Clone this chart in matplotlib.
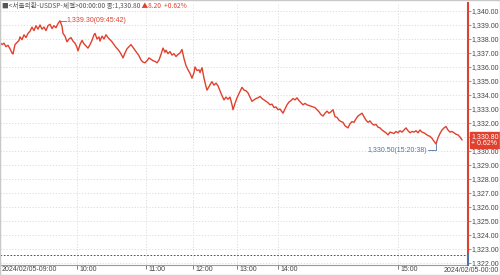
import matplotlib
matplotlib.use("Agg")
import matplotlib.pyplot as plt
import matplotlib.transforms as mtransforms

# ─────────────────────────────────────────────
# Data
# ─────────────────────────────────────────────
pos = [0, 2, 4, 6, 8, 10, 12, 13, 15, 17, 19, 20, 22, 24, 26, 28, 30, 32, 34, 36,
       38, 40, 42, 44, 46, 48, 50, 52, 54, 56, 58, 60, 62, 63, 65, 67, 69, 71, 73, 75,
       77, 78, 80, 82, 84, 86, 88, 90, 92, 94, 95, 97, 99, 100, 102, 104, 106, 108, 110, 112,
       114, 116, 118, 120, 122, 123, 125, 127, 129, 131, 133, 135, 137, 139, 141, 143, 145, 147, 149, 151,
       153, 155, 157, 159, 161, 163, 165, 166, 168, 170, 172, 174, 176, 178, 180, 182, 184, 186, 188, 190,
       192, 194, 195, 197, 199, 200, 202, 204, 206, 207, 209, 211, 212, 214, 216, 218, 220, 222, 224, 226,
       228, 230, 232, 233, 235, 237, 239, 241, 242, 244, 246, 248, 250, 252, 254, 256, 258, 260, 262, 264,
       266, 268, 270, 272, 274, 276, 278, 280, 282, 283, 285, 287, 289, 291, 293, 295, 297, 299, 301, 303,
       305, 307, 309, 311, 313, 315, 317, 319, 321, 323, 325, 327, 329, 331, 333, 335, 337, 339, 341, 343,
       345, 347, 348, 350, 352, 354, 356, 358, 360, 362, 364, 366, 368, 370, 372, 374, 376, 378, 380, 382,
       384, 386, 388, 390, 392, 394, 396, 398, 400, 402, 404, 406, 408, 410, 412, 414, 416, 418, 420, 422,
       424, 426, 428, 430, 432, 434, 436, 438, 440, 442, 444, 446, 448, 450, 452, 454, 456, 458, 460, 462]
price = [1337.75, 1337.6, 1337.7, 1337.45, 1337.55, 1337.3, 1337.0, 1336.93, 1337.6, 1337.75,
         1337.9, 1338.15, 1337.95, 1338.3, 1338.1, 1338.4, 1338.55, 1338.85, 1338.6, 1338.95,
         1338.7, 1339.0, 1338.7, 1338.85, 1338.6, 1338.95, 1339.05, 1338.75, 1338.95, 1338.8,
         1339.1, 1339.3, 1338.9, 1338.4, 1338.2, 1337.8, 1338.0, 1338.1, 1337.85, 1337.7,
         1337.4, 1337.15, 1337.6, 1337.9, 1337.65, 1337.5, 1337.35, 1337.6, 1337.9, 1338.3,
         1338.4, 1338.0, 1338.15, 1337.85, 1338.2, 1338.0, 1338.3, 1338.1, 1337.95, 1337.8,
         1337.6, 1337.4, 1337.25, 1337.05, 1336.8, 1336.65, 1337.0, 1337.3, 1337.45, 1337.6,
         1337.4, 1337.2, 1337.0, 1336.8, 1336.5, 1336.35, 1336.3, 1336.45, 1336.65, 1336.55,
         1336.45, 1336.4, 1336.3, 1336.5, 1336.9, 1337.35, 1337.05, 1337.2, 1336.95, 1337.1,
         1336.85, 1336.95, 1336.75, 1336.9, 1337.0, 1337.25, 1336.6, 1336.1, 1335.8, 1335.55,
         1335.2, 1335.6, 1336.0, 1335.75, 1335.8, 1335.6, 1335.95, 1335.2, 1334.6, 1334.35,
         1334.6, 1334.85, 1334.95, 1334.7, 1334.85, 1334.65, 1334.3, 1333.95, 1333.65, 1333.85,
         1333.7, 1333.85, 1333.3, 1332.95, 1333.4, 1333.8, 1334.1, 1334.4, 1334.55, 1334.35,
         1334.3, 1334.15, 1333.85, 1333.55, 1333.65, 1333.75, 1333.8, 1333.9, 1333.75, 1333.65,
         1333.55, 1333.45, 1333.3, 1333.35, 1333.1, 1333.15, 1332.95, 1333.0, 1332.8, 1332.7,
         1333.0, 1333.3, 1333.5, 1333.6, 1333.75, 1333.65, 1333.8, 1333.6, 1333.45, 1333.3,
         1333.4, 1333.3, 1333.25, 1333.2, 1333.15, 1333.1, 1332.95, 1332.8, 1332.6, 1332.5,
         1332.7, 1332.85, 1332.7, 1332.8, 1332.95, 1332.45, 1332.4, 1332.2, 1332.1, 1332.05,
         1331.8, 1331.7, 1331.65, 1331.95, 1332.1, 1332.05, 1332.3, 1332.5, 1332.6, 1332.7,
         1332.45, 1332.2, 1332.05, 1332.15, 1331.95, 1331.85, 1331.9, 1331.7, 1331.65, 1331.5,
         1331.4, 1331.3, 1331.15, 1331.35, 1331.3, 1331.25, 1331.4, 1331.3, 1331.45, 1331.35,
         1331.5, 1331.65, 1331.45, 1331.3, 1331.4, 1331.35, 1331.45, 1331.3, 1331.5, 1331.35,
         1331.3, 1331.2, 1331.1, 1331.05, 1330.9, 1330.7, 1330.5, 1330.95, 1331.25, 1331.5,
         1331.65, 1331.75, 1331.5, 1331.35, 1331.4, 1331.3, 1331.2, 1331.15, 1331.0, 1330.8]

time_ticks = [0, 77, 146, 193, 237, 278, 398]
time_labels = ["2024/02/05-09:00", "10:00", "11:00", "12:00", "13:00", "14:00", "15:00"]
end_label = "2024/02/05-00:00"

y_ticks = list(range(1322, 1341))
prev_close = 1322.60
last_price = 1330.80
change = 8.20
change_pct = 0.62
high_price, high_pos, high_time = 1339.30, 60, "09:45:42"
low_price, low_pos, low_time = 1330.50, 436, "15:20:38"

# ─────────────────────────────────────────────
# Styles
# ─────────────────────────────────────────────
RED = "#e0412f"
BLUE = "#4f73a6"
GRID = "#d9d9d9"
TXT = "#444444"
FONT = ["Noto Sans CJK KR", "DejaVu Sans"]
NUM_FONT = ["Liberation Sans", "DejaVu Sans"]
FS = 5.0

X_MAX = 468
Y_MIN, Y_MAX = 1321.86, 1340.57

fig = plt.figure(figsize=(5, 2.75), dpi=100)
fig.patch.set_facecolor("white")
ax = fig.add_axes([0, 10 / 275, X_MAX / 500, 262 / 275])
ax.set_xlim(0, X_MAX)
ax.set_ylim(Y_MIN, Y_MAX)

# grid
for yv in y_ticks:
    ax.axhline(yv, color=GRID, lw=0.6, ls=(0, (1.5, 2)), zorder=0)
for xv in time_ticks[1:]:
    ax.axvline(xv, color=GRID, lw=0.6, ls=(0, (1.5, 2)), zorder=0)

# previous close
ax.axhline(prev_close, color="#333333", lw=0.6, ls=(0, (2, 2)), zorder=1)

# price line
ax.plot(pos, price, color=RED, lw=1.0, zorder=3)

# spines
for side in ["left", "top", "right"]:
    ax.spines[side].set_visible(False)
ax.spines["bottom"].set_color("#9a9a9a")
ax.spines["bottom"].set_linewidth(0.8)
split = (prev_close - Y_MIN) / (Y_MAX - Y_MIN)
ax.axvline(X_MAX, ymin=split, ymax=1, color=RED, lw=1.5, clip_on=False, zorder=4)
ax.axvline(X_MAX, ymin=0, ymax=split, color=BLUE, lw=1.5, clip_on=False, zorder=4)

# y axis on right (the 1,331.00 label sits under the last-price box)
ax.yaxis.tick_right()
ax.set_yticks(y_ticks)
ax.set_yticklabels(["" if v == 1331 else f"{v:,.2f}" for v in y_ticks], fontsize=FS,
                   color=TXT, family=NUM_FONT)
ax.tick_params(axis="y", length=2, width=0.6, color="#888888", pad=0.5)

# x axis: labels start just right of the tick mark
ax.set_xticks(time_ticks)
ax.set_xticklabels(time_labels, fontsize=FS, color=TXT, family=NUM_FONT, ha="left")
ax.tick_params(axis="x", length=3, width=0.6, color="#666666", pad=-2)
shift = mtransforms.ScaledTranslation(2 / 100, 0, fig.dpi_scale_trans)
for lbl in ax.get_xticklabels():
    lbl.set_transform(lbl.get_transform() + shift)
fig.text(0.998, 0.004, end_label, fontsize=FS, color=TXT, family=NUM_FONT,
         ha="right", va="bottom")

# high / low annotations
ax.plot([high_pos, high_pos + 6], [high_price, high_price], color=RED, lw=0.6, zorder=4)
ax.text(high_pos + 6.5, high_price, f"{high_price:,.2f}({high_time})", fontsize=FS,
        color=RED, family=NUM_FONT, va="center", ha="left")
low_y = low_price - 0.45
ax.plot([low_pos - 8, low_pos, low_pos], [low_y, low_y, low_price], color=BLUE, lw=0.6,
        zorder=4)
ax.text(low_pos - 8.5, low_y, f"{low_price:,.2f}({low_time})", fontsize=FS,
        color=BLUE, family=NUM_FONT, va="center", ha="right")

# last price box
ax.annotate(f"{last_price:,.2f}\n+ {change_pct:.2f}%", xy=(X_MAX, last_price),
            xytext=(2.5, 0), textcoords="offset points", fontsize=FS, color="white",
            family=NUM_FONT, va="center", ha="left", linespacing=0.95,
            bbox=dict(boxstyle="square,pad=0.2", fc=RED, ec=RED), zorder=6,
            annotation_clip=False)

# header
head = fig.text(0.004, 0.978, "■<서울외환-USDSP-체결>00:00:00 종:1,330.80", fontsize=4.8,
                color="#555555", family=FONT, va="center", ha="left")
chg = ax.annotate(f" ▲{change:.2f}", xy=(1, 0.5), xycoords=head, fontsize=4.8,
                  color=RED, family=FONT, va="center", ha="left", annotation_clip=False)
ax.annotate(f"  +{change_pct:.2f}%", xy=(1, 0.5), xycoords=chg, fontsize=4.8,
            color=RED, family=FONT, va="center", ha="left", annotation_clip=False)

fig.add_artist(plt.Rectangle((0, 0), 1, 1, transform=fig.transFigure, fill=False,
                             ec="#c8c8c8", lw=1))

plt.savefig("out.png", dpi=100)
plt.close()
